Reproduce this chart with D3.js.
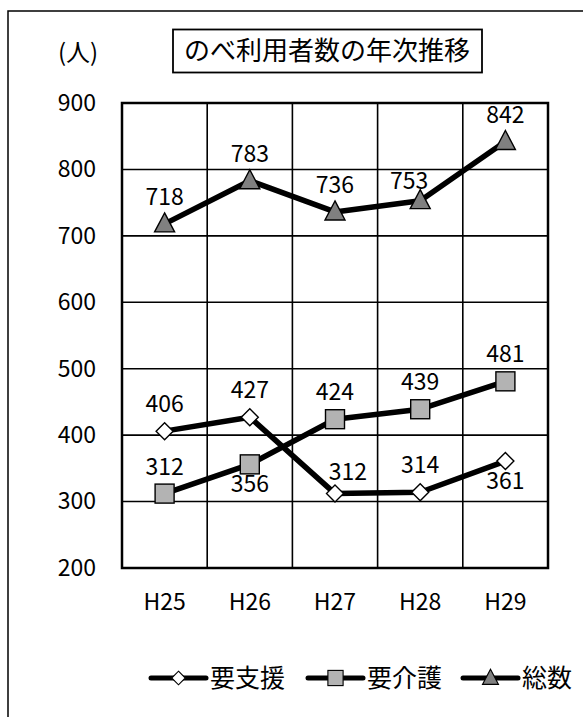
<!DOCTYPE html>
<html>
<head>
<meta charset="utf-8">
<script src="https://cdn.jsdelivr.net/npm/d3@7"></script>
<style>
  html, body { margin: 0; padding: 0; background: #fff; }
  svg { display: block; font-family: "Noto Sans CJK JP", "Noto Sans", sans-serif; }
</style>
</head>
<body>
<svg id="chart" width="583" height="717"></svg>
<script>
// 年度
const years = ["H25", "H26", "H27", "H28", "H29"];
// のべ利用者数（人）
const shien = [406, 427, 312, 314, 361];   // 要支援
const kaigo = [312, 356, 424, 439, 481];   // 要介護
const total = [718, 783, 736, 753, 842];   // 総数
const yTicks = [200, 300, 400, 500, 600, 700, 800, 900];
const seriesNames = ["要支援", "要介護", "総数"];
// データラベルの位置
const shienPlace = ["above", "above", "aboveRight", "above", "below"];
const kaigoPlace = ["above", "below", "above", "above", "above"];
const totalPlace = ["above", "above", "above", "aboveLeft", "above"];

const svg = d3.select("#chart");
const margin = { left: 122, top: 103, right: 548, bottom: 568 };
const labelFont = 23;

// 外枠
svg.append("rect")
  .attr("x", 8).attr("y", 11)
  .attr("width", 600).attr("height", 760)
  .attr("fill", "none").attr("stroke", "#000").attr("stroke-width", 1.5);

const x = d3.scaleBand().domain(years).range([margin.left, margin.right]).padding(0);
const y = d3.scaleLinear().domain([200, 900]).range([margin.bottom, margin.top]);
const cx = d => x(d) + x.bandwidth() / 2;

// 目盛線
const g = svg.append("g");
g.selectAll("line.h").data(yTicks).join("line")
  .attr("x1", margin.left).attr("x2", margin.right)
  .attr("y1", d => y(d)).attr("y2", d => y(d))
  .attr("stroke", "#000").attr("stroke-width", 1.6);
g.selectAll("line.v").data(years.slice(1)).join("line")
  .attr("x1", d => x(d)).attr("x2", d => x(d))
  .attr("y1", margin.top).attr("y2", margin.bottom)
  .attr("stroke", "#000").attr("stroke-width", 1.6);
g.append("rect")
  .attr("x", margin.left).attr("y", margin.top)
  .attr("width", margin.right - margin.left).attr("height", margin.bottom - margin.top)
  .attr("fill", "none").attr("stroke", "#000").attr("stroke-width", 2.5);

// Y軸
const yAxis = d3.axisLeft(y).tickValues(yTicks).tickSize(0).tickPadding(26);
const ya = svg.append("g").attr("transform", `translate(${margin.left},0)`).call(yAxis);
ya.select(".domain").remove();
ya.selectAll("text").attr("font-size", labelFont).attr("fill", "#000")
  .attr("font-family", "'Noto Sans CJK JP', sans-serif");

// X軸
const xAxis = d3.axisBottom(x).tickSize(0).tickPadding(26);
const xa = svg.append("g").attr("transform", `translate(0,${margin.bottom})`).call(xAxis);
xa.select(".domain").remove();
xa.selectAll("text").attr("font-size", labelFont).attr("fill", "#000")
  .attr("font-family", "'Noto Sans CJK JP', sans-serif");

// 単位
svg.append("text").attr("x", 78).attr("y", 61).attr("text-anchor", "middle")
  .attr("font-size", 24).text("(人)");

// タイトル
svg.append("rect").attr("x", 173).attr("y", 29.5).attr("width", 309).attr("height", 43)
  .attr("fill", "#fff").attr("stroke", "#000").attr("stroke-width", 1.8);
svg.append("text").attr("x", 327).attr("y", 60).attr("text-anchor", "middle")
  .attr("font-size", 26).text("のべ利用者数の年次推移");

// マーカー
function marker(sel, type) {
  if (type === 0) {
    sel.append("path").attr("d", "M0,-8.5L8.5,0L0,8.5L-8.5,0Z")
      .attr("fill", "#fff").attr("stroke", "#000").attr("stroke-width", 1.4);
  } else if (type === 1) {
    sel.append("rect").attr("x", -9.5).attr("y", -9.5).attr("width", 19).attr("height", 19)
      .attr("fill", "#b3b3b3").attr("stroke", "#000").attr("stroke-width", 1.4);
  } else {
    sel.append("path").attr("d", "M0,-11L10,8L-10,8Z")
      .attr("fill", "#808080").attr("stroke", "#000").attr("stroke-width", 1.4);
  }
}

const line = d3.line().x((d, i) => cx(years[i])).y(d => y(d));
const series = [shien, kaigo, total];
const places = [shienPlace, kaigoPlace, totalPlace];

series.forEach((vals) => {
  svg.append("path").datum(vals).attr("d", line)
    .attr("fill", "none").attr("stroke", "#000").attr("stroke-width", 5.5)
    .attr("stroke-linejoin", "round");
});
series.forEach((vals, si) => {
  vals.forEach((v, i) => {
    const m = svg.append("g").attr("transform", `translate(${cx(years[i])},${y(v)})`);
    marker(m, si);
  });
});
series.forEach((vals, si) => {
  vals.forEach((v, i) => {
    const p = places[si][i];
    let dx = 0, dy = -19;
    if (p === "below") dy = 28;
    if (p === "aboveRight") { dx = 13; dy = -14; }
    if (p === "aboveLeft") { dx = -11; dy = -12; }
    svg.append("text")
      .attr("x", cx(years[i]) + dx).attr("y", y(v) + dy)
      .attr("text-anchor", "middle").attr("font-size", labelFont)
      .text(v);
  });
});

// 凡例
const legendX = [151, 308, 463];
seriesNames.forEach((name, si) => {
  const lg = svg.append("g").attr("transform", `translate(${legendX[si]},678)`);
  lg.append("line").attr("x1", 0).attr("x2", 55).attr("y1", 0).attr("y2", 0)
    .attr("stroke", "#000").attr("stroke-width", 5).attr("stroke-linecap", "round");
  const mk = lg.append("g").attr("transform", "translate(27.5,0) scale(0.8)");
  marker(mk, si);
  lg.append("text").attr("x", 59).attr("y", 9).attr("font-size", 25).text(name);
});
</script>
</body>
</html>
